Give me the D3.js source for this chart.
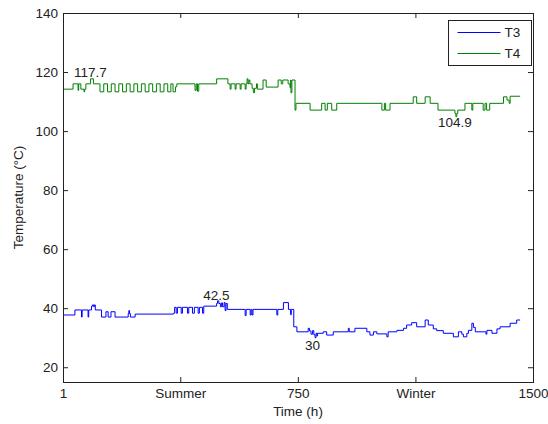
<!DOCTYPE html>
<html>
<head>
<meta charset="utf-8">
<script src="https://cdn.jsdelivr.net/npm/d3@7"></script>
<style>
  body { margin: 0; background: #fff; }
  svg { font-family: "Liberation Sans", Arial, sans-serif; }
  .axis text { font-size: 13.5px; fill: #222; }
  .axis path { display: none; }
  .axis line { stroke: #222; }
</style>
</head>
<body>
<div id="chart"></div>
<script>
var margin = {top: 13, left: 63, right: 15, bottom: 42},
    width  = 548 - margin.left - margin.right,
    height = 424 - margin.top  - margin.bottom

// step breakpoints: hour where the reading changes, and the new value
var t3Hours = [1,39,60,62,81,83,92,95,99,101,104,124,138,145,154,167,209,211,213,216,231,
  353,357,362,366,378,382,398,402,414,420,432,436,446,450,491,494,498,503,507,510,515,518,521,525,
  582,585,598,601,604,607,683,686,704,720,727,729,737,747,783,787,792,797,801,805,808,811,813,
  831,842,863,911,914,932,970,980,991,1002,1034,1038,1066,1087,1097,1113,1129,1156,1166,1182,
  1193,1214,1246,1262,1273,1278,1289,1294,1305,1310,1316,1350,1353,1369,1385,1395,1427,1448,1459];
var t3Temps = [37.7,39.4,37,39.4,37,39.4,40.7,41.1,40.5,41.1,39.4,37,38.8,37,38.8,37,38.2,39.2,38.2,37,38,
  38.3,40.3,38.3,40.3,38.3,40.3,38.3,40.3,38.3,40.3,38.3,40.3,38.3,40.7,41.6,42.5,41.6,40.5,41.8,40.5,41.9,39.2,41.6,39.6,
  37.5,39.6,37.7,39.6,37.7,39.6,37.7,39.6,41.9,39.6,37.8,39.6,33.7,32,33.2,32.3,31.2,32.4,31,30,31.5,30.6,31.5,
  32,30.9,32,33.2,32,33.2,32,30.9,32,31.3,30.3,32,32.5,33.2,34.3,35.1,33.7,36,34.3,33,
  32.4,31.5,30.3,32,31.2,30.3,31.5,32.5,34.9,33.5,32,31.2,32.5,31.5,33,33.7,34.9,36,36];

var t4Hours = [1,33,49,51,58,68,70,74,89,98,119,131,143,155,167,179,191,203,215,227,239,251,263,275,
  287,299,311,323,335,345,352,360,364,422,426,430,434,491,527,534,537,550,553,566,569,582,585,588,591,
  594,597,604,608,612,618,621,639,649,687,697,702,719,725,727,728,731,741,744,789,826,837,844,858,874,
  1018,1026,1030,1044,1118,1129,1156,1172,1197,1251,1254,1257,1260,1283,1305,1308,1341,1347,1352,1362,
  1406,1417,1424,1427,1459];
var t4Temps = [114.2,116,113.8,116,114.2,113.3,114.2,116,117.7,116,113.3,116,113.3,116,113.3,116,113.3,116,113.3,116,113.3,116,113.3,116,
  113.3,116,113.3,116,113.3,116,113.3,115,116,113.8,116,113.5,116,117.7,116,114.2,116,114.2,116,114.2,116,114.2,116,117.7,116,
  117.3,116,114.5,113,114.5,116,114.2,117.3,114.9,117.3,116,117.3,116,114.7,117.3,113,117.3,107.1,109.4,107.1,109.4,107.1,109.4,107.1,109.4,
  107.1,109.4,107.1,109.4,111.6,109.4,111.6,109.4,107.1,106,104.9,106,107.1,109.4,107.1,109.4,107.1,109.4,107.1,109.4,
  111.6,110.5,109.4,111.8,111.8];

var xTicks = [1, 375, 750, 1125, 1500],
    xTickLabels = ["1", "Summer", "750", "Winter", "1500"],
    yTicks = [20, 40, 60, 80, 100, 120, 140];

var notes = [
  {text: "117.7", h: 36, v: 118.3},
  {text: "104.9", h: 1197, v: 101.4},
  {text: "42.5", h: 448, v: 42.9},
  {text: "30", h: 773, v: 26}
];

var series = [
  {name: "T3", color: "#0000ff", hours: t3Hours, temps: t3Temps},
  {name: "T4", color: "#008000", hours: t4Hours, temps: t4Temps}
];

var x = d3.scaleLinear().domain([1, 1500]).range([0, width]),
    y = d3.scaleLinear().domain([15, 140]).range([height, 0]);

var svg = d3.select("#chart").append("svg")
    .attr("width", width + margin.left + margin.right)
    .attr("height", height + margin.top + margin.bottom);

var g = svg.append("g").attr("transform", "translate(" + margin.left + "," + margin.top + ")");

var line = d3.line()
    .curve(d3.curveStepAfter)
    .x(function(d) { return x(d[0]); })
    .y(function(d) { return y(d[1]); });

series.forEach(function(s) {
  g.append("path")
    .datum(d3.zip(s.hours, s.temps))
    .attr("fill", "none")
    .attr("stroke", s.color)
    .attr("stroke-width", 1)
    .attr("d", line);
});

// axes: ticks point inward, mirrored on top/right
g.append("g").attr("class", "axis")
  .attr("transform", "translate(0," + height + ")")
  .call(d3.axisBottom(x).tickValues(xTicks).tickSizeInner(-5).tickSizeOuter(0).tickPadding(6)
    .tickFormat(function(d, i) { return xTickLabels[i]; }));
g.append("g").attr("class", "axis")
  .call(d3.axisTop(x).tickValues(xTicks).tickSizeInner(-5).tickSizeOuter(0).tickFormat(""));
g.append("g").attr("class", "axis")
  .call(d3.axisLeft(y).tickValues(yTicks).tickSizeInner(-5).tickSizeOuter(0).tickPadding(5));
g.append("g").attr("class", "axis")
  .attr("transform", "translate(" + width + ",0)")
  .call(d3.axisRight(y).tickValues(yTicks).tickSizeInner(-5).tickSizeOuter(0).tickFormat(""));

g.append("rect")
  .attr("x", 0.5).attr("y", 0.5)
  .attr("width", width).attr("height", height)
  .attr("fill", "none").attr("stroke", "#222");

g.selectAll(".note")
  .data(notes)
  .enter().append("text")
    .attr("class", "note")
    .attr("x", function(d) { return x(d.h); })
    .attr("y", function(d) { return y(d.v); })
    .attr("font-size", "13.5px")
    .attr("fill", "#222")
    .text(function(d) { return d.text; });

g.append("text")
  .attr("x", width / 2)
  .attr("y", height + 34)
  .attr("text-anchor", "middle")
  .attr("font-size", "13.5px")
  .attr("fill", "#222")
  .text("Time (h)");

g.append("text")
  .attr("transform", "rotate(-90)")
  .attr("x", -height / 2)
  .attr("y", -40)
  .attr("text-anchor", "middle")
  .attr("font-size", "13.5px")
  .attr("fill", "#222")
  .text("Temperature (°C)");

// legend
var legend = g.append("g").attr("transform", "translate(" + (width - 84.5) + ",7.5)");
legend.append("rect")
  .attr("width", 83).attr("height", 45)
  .attr("fill", "#fff").attr("stroke", "#222");
series.forEach(function(s, i) {
  var ly = 12 + i * 21;
  legend.append("line")
    .attr("x1", 9).attr("x2", 52)
    .attr("y1", ly).attr("y2", ly)
    .attr("stroke", s.color);
  legend.append("text")
    .attr("x", 56).attr("y", ly)
    .attr("dy", "0.35em")
    .attr("font-size", "13.5px")
    .attr("fill", "#222")
    .text(s.name);
});
</script>
</body>
</html>
